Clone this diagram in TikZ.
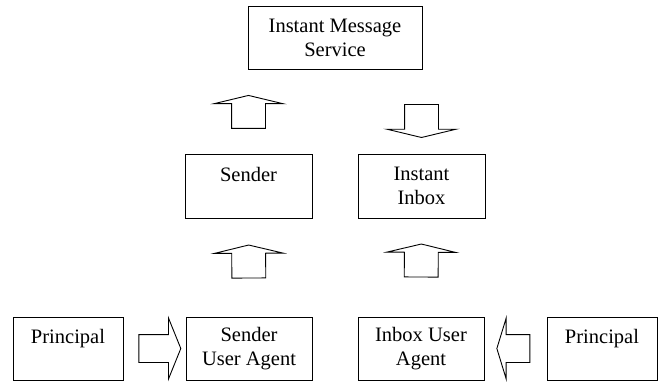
\documentclass[tikz,border=0pt]{standalone}
\usepackage{fontspec}
\setmainfont{Liberation Serif}
\usetikzlibrary{shapes.arrows}
\begin{document}
\begin{tikzpicture}[x=1pt,y=-1pt,
  box/.style={draw,line width=0.9pt,align=center,inner sep=0pt,font=\fontsize{20.5}{24}\selectfont},
  topbox/.style={box,minimum width=174pt,minimum height=63pt},
  midbox/.style={box,minimum width=127pt,minimum height=64pt},
  lowbox/.style={box,minimum width=126pt,minimum height=63pt},
  sidebox/.style={box,minimum width=110pt,minimum height=63pt},
  barrow/.style={single arrow,draw,line width=0.9pt,inner xsep=0pt,sloped,allow upside down},
  vbarrow/.style={barrow,inner ysep=16.5pt,minimum height=33pt,single arrow head extend=17.5pt,single arrow tip angle=153},
  hbarrow/.style={barrow,inner ysep=13.5pt,single arrow head extend=16.5pt}]
  \useasboundingbox (0,0) rectangle (665,383);
  \node[topbox] (IMS) at (335,37.5) {Instant Message\\Service};
  \node[midbox] (S) at (248.5,186) {Sender\\~};
  \node[midbox] (II) at (421.5,186) {Instant\\Inbox};
  \node[sidebox] (P1) at (68,348.5) {Principal\\~};
  \node[lowbox] (SUA) at (249,348.5) {Sender\\User Agent};
  \node[lowbox] (IUA) at (421,348.5) {Inbox User\\Agent};
  \node[sidebox] (P2) at (602,348.5) {Principal\\~};

  \path (S.north) -- node[vbarrow,pos=0.441,xshift=2.5pt] {} (S.north |- IMS.south);
  \path (II.north |- IMS.south) -- node[vbarrow,pos=0.559,xshift=2.5pt] {} (II.north);
  \path (SUA.north) -- node[vbarrow,pos=0.525,xshift=1.5pt] {} (S.south);
  \path (IUA.north) -- node[vbarrow,pos=0.525,xshift=2.5pt] {} (II.south);
  \path (P1.east) -- node[hbarrow,pos=0.54,minimum height=42pt,single arrow tip angle=136] {} (SUA.west);
  \path (P2.west) -- node[hbarrow,pos=0.5,minimum height=33pt,single arrow tip angle=146] {} (IUA.east);
\end{tikzpicture}
\end{document}
